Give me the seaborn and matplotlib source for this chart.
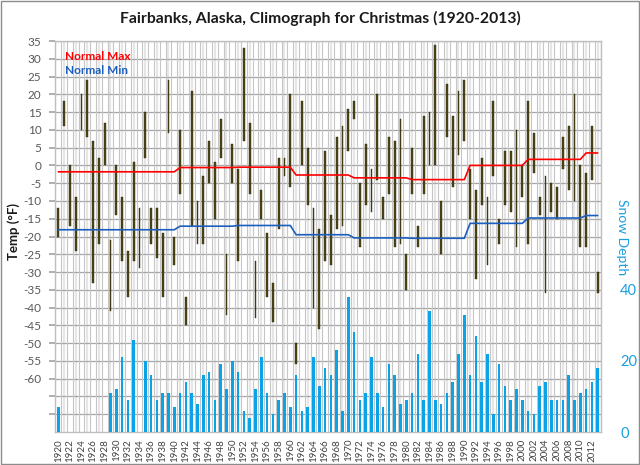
import numpy as np
import pandas as pd
import matplotlib
matplotlib.use("Agg")
import matplotlib.pyplot as plt
import seaborn as sns

years = list(range(1920, 2014))

temp_max = [-12, 18, 0, -9, 20, 24, 7, 2, 12, -21,
            0, -9, -24, 1, -12, 15, -12, -12, -19, 24,
            -20, 10, -37, 21, -10, -3, 7, 1, 13, -25,
            6, -1, 33, 12, -27, -7, -19, -33, 2, 2,
            20, -50, 18, 5, -12, -18, 4, -14, 8, 11,
            16, 18, -5, 6, -1, 20, -9, 8, 7, 13,
            -25, 5, -17, 14, 15, 34, -10, 23, 14, 21,
            24, -1, -7, 2, -9, 18, -15, 4, 4, 10,
            0, 18, 9, -9, -3, -5, -6, 8, 11, 20,
            0, -2, 11, -30]

temp_min = [-20, 11, -17, -24, 10, 8, -33, -22, 0, -41,
            -14, -27, -37, -27, -29, 2, -22, -26, -37, 9,
            -28, -8, -45, -17, -22, -22, -5, -15, 2, -42,
            -5, -27, 7, -8, -43, -15, -37, -44, -18, -3,
            -6, -56, 0, -11, -40, -46, -27, -28, -18, -17,
            4, 13, -23, -11, -13, -4, -15, -8, -23, -22,
            -35, -8, -23, -8, 0, 0, -25, 8, -6, 3,
            7, -15, -32, -11, -28, -3, -22, -11, -13, -23,
            -9, -22, -2, -14, -36, -13, -15, -1, -7, -10,
            -23, -23, -4, -36]

snow_depth = [7, 0, 0, 0, 0, 0, 0, 0, 0, 11,
              12, 21, 9, 26, 0, 20, 16, 9, 11, 11,
              7, 11, 14, 11, 8, 16, 17, 9, 19, 12,
              20, 17, 6, 4, 12, 21, 11, 5, 9, 11,
              7, 16, 6, 7, 21, 13, 18, 16, 23, 6,
              38, 28, 9, 11, 21, 11, 7, 19, 16, 8,
              9, 11, 22, 9, 34, 9, 8, 11, 14, 22,
              33, 16, 27, 14, 22, 5, 19, 13, 9, 12,
              9, 6, 5, 13, 14, 9, 9, 9, 16, 9,
              11, 12, 14, 18]

# normals change by period
period_start = [1920, 1941, 1951, 1961, 1971, 1981, 1991, 2001, 2011]
period_len = [21, 10, 10, 10, 10, 10, 10, 10, 3]
normal_max_vals = [-1.8, -0.6, -0.5, -2.7, -3.5, -4.0, 0.0, 1.7, 3.5]
normal_min_vals = [-18.1, -17.1, -16.9, -19.5, -20.4, -20.5, -16.3, -14.8, -14.1]

df = pd.DataFrame({"Year": years, "Max": temp_max, "Min": temp_min, "Snow": snow_depth})
df["NormalMax"] = np.repeat(normal_max_vals, period_len)
df["NormalMin"] = np.repeat(normal_min_vals, period_len)

sns.set_theme(style="white")
plt.rcParams["font.family"] = ["Lato", "DejaVu Sans"]

fig = plt.figure(figsize=(6.4, 4.65), dpi=100)
ax = fig.add_axes([55.4 / 640, 33 / 465, 545.2 / 640, 391 / 465])

# grid
ax.set_yticks(range(-70, 36, 5))
ax.set_yticklabels([str(v) if v >= -60 else "" for v in range(-70, 36, 5)])
ax.grid(axis="y", color="#a6a6a6", lw=0.9)
ax.set_xticks(years, minor=True)
ax.grid(axis="x", which="minor", color="#e6e6e6", lw=1.6)
for b in np.arange(1919.5, 2014, 1.0):
    ax.axvline(b, color="#c6c6c6", lw=0.8, zorder=0.6)
ax.set_axisbelow(True)

ax.bar(df["Year"], df["Max"] - df["Min"], bottom=df["Min"], width=0.34,
       color="#4f4615", edgecolor="#2e290a", lw=0.3, zorder=3)

sns.lineplot(data=df, x="Year", y="NormalMax", ax=ax, color="#ff0000", lw=1.2, zorder=4)
sns.lineplot(data=df, x="Year", y="NormalMin", ax=ax, color="#1a5fc0", lw=1.2, zorder=4)

ax.set_xlim(1919.5, 2013.5)
ax.set_ylim(-75, 35)
ax.set_xlabel("")
ax.set_ylabel("")
ax.set_xticks(range(1920, 2013, 2))
ax.set_xticklabels([str(y) for y in range(1920, 2013, 2)], rotation=90, fontsize=7, color="#404040")
ax.tick_params(axis="x", which="both", length=0, pad=5)
ax.tick_params(axis="y", length=4, color="#a6a6a6", labelsize=8.5, labelcolor="#595959", pad=6)
for s in ax.spines.values():
    s.set_color("#bfbfbf")
    s.set_linewidth(1)

ax2 = ax.twinx()
sns.barplot(x=df["Year"], y=df["Snow"], ax=ax2, native_scale=True, color="#0ba3e8",
            saturation=1, width=0.44, linewidth=0, zorder=3)
ax2.set_xlim(1919.5, 2013.5)
ax2.set_ylim(0, 110)
ax2.set_yticks([0, 20, 40])
ax2.set_yticklabels(["0", "20", "40"])
ax2.tick_params(axis="y", length=0, labelsize=10.5, labelcolor="#1a9ee0", pad=14)
ax2.set_xlabel("")
ax2.set_ylabel("")
ax2.grid(False)
for s in ax2.spines.values():
    s.set_visible(False)

fig.text(0.5, 1 - 18 / 465, "Fairbanks, Alaska, Climograph for Christmas (1920-2013)",
         ha="center", va="center", fontsize=11.3, fontweight="bold", color="#1a1a1a")
fig.text(14 / 640, 1 - 232 / 465, "Temp (°F)", rotation=90, ha="center", va="center",
         fontsize=9.5, fontweight="bold", color="#1a1a1a")
fig.text(622 / 640, 1 - 237 / 465, "Snow Depth", rotation=-90, ha="center", va="center",
         fontsize=10, color="#1a9ee0")
fig.text(65 / 640, 1 - 57 / 465, "Normal Max", ha="left", va="center", fontsize=8.5,
         color="#ff0000", fontweight="bold")
fig.text(65 / 640, 1 - 71 / 465, "Normal Min", ha="left", va="center", fontsize=8.5,
         color="#1a5fc0", fontweight="bold")

fig.patches.append(plt.Rectangle((0.002, 0.002), 0.996, 0.996, transform=fig.transFigure,
                                 fill=False, edgecolor="#8c8c8c", lw=1))

plt.savefig("out.png", dpi=100)
plt.close()
